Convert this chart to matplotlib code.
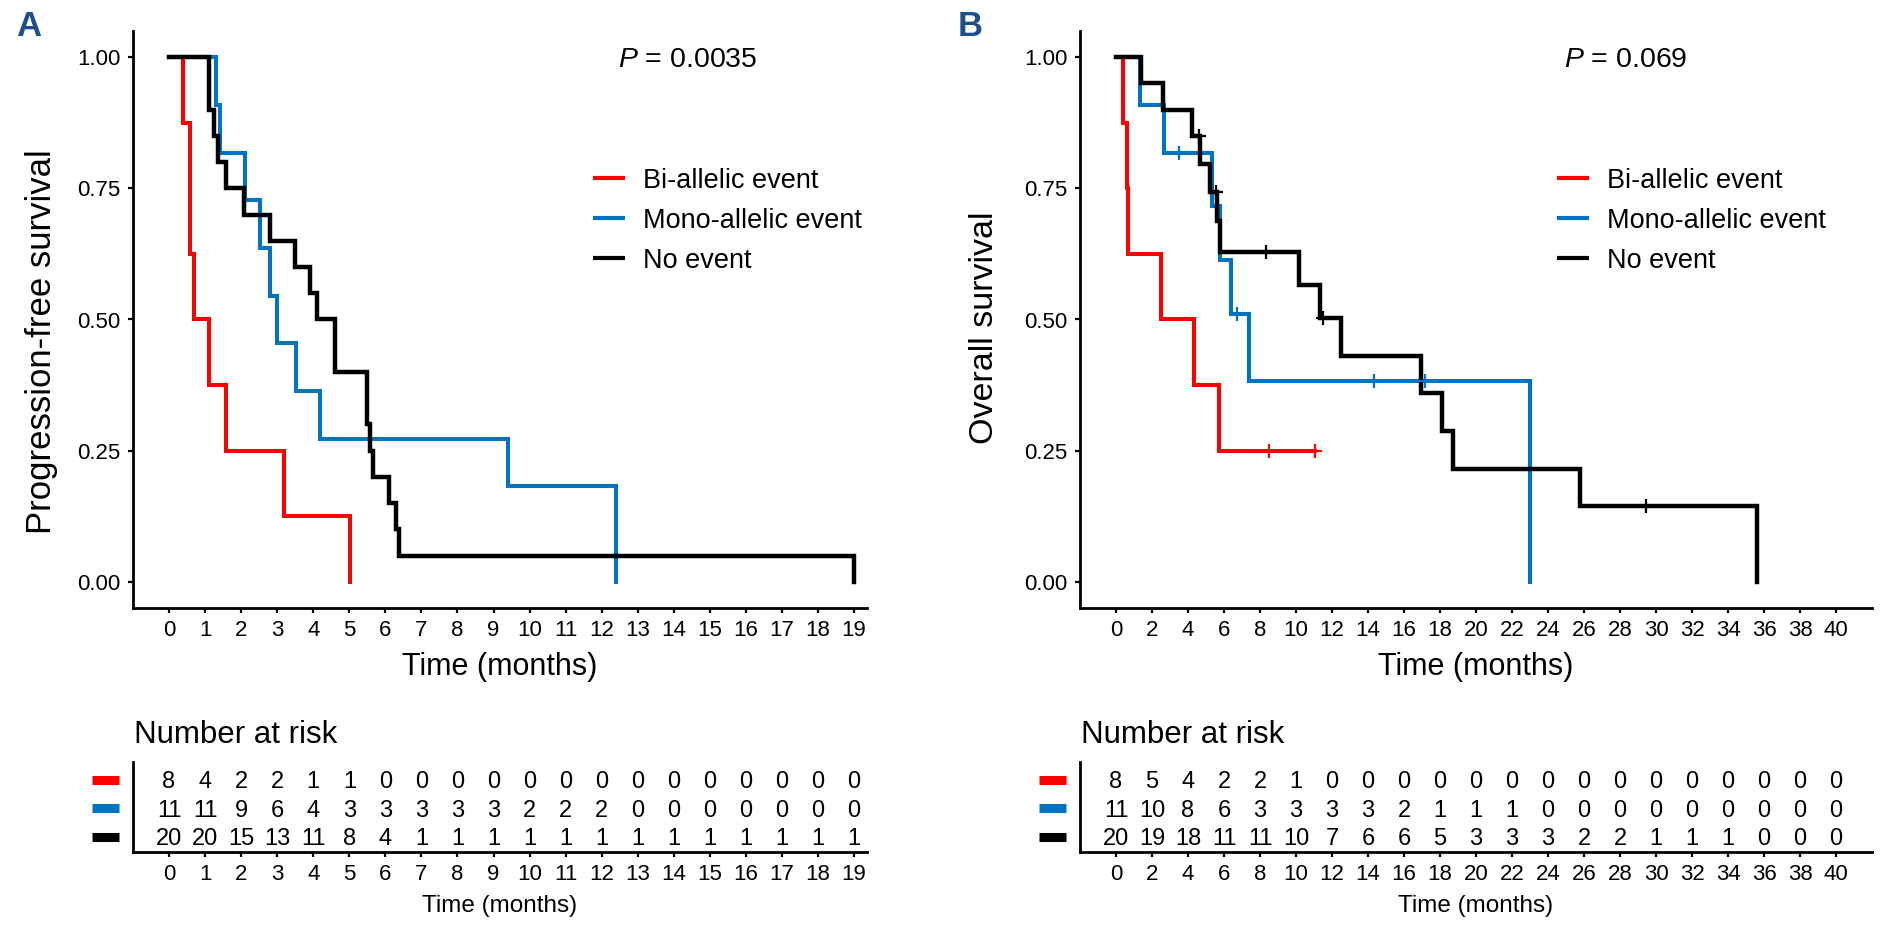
import numpy as np
import matplotlib
matplotlib.use('Agg')
import matplotlib.pyplot as plt
from matplotlib.lines import Line2D

plt.rcParams['font.family'] = ['Liberation Sans', 'DejaVu Sans']
plt.rcParams['mathtext.fontset'] = 'custom'
plt.rcParams['mathtext.rm'] = 'Liberation Sans'
plt.rcParams['mathtext.it'] = 'Liberation Sans:italic'

W, H = 1885, 930

groups = ['Bi-allelic event', 'Mono-allelic event', 'No event']
colors = ['#FF0000', '#0073C2', '#000000']
line_widths = [2.9, 2.9, 3.2]

# ---------------- Panel A: progression-free survival ----------------
pfs_bi_time = [0, 0.38, 0.59, 0.69, 1.10, 1.59, 3.20, 5.01]
pfs_bi_surv = [1.0, 0.875, 0.625, 0.5, 0.375, 0.25, 0.125, 0.0]
pfs_mono_time = [0, 1.31, 1.40, 2.11, 2.51, 2.81, 3.00, 3.51, 4.20, 9.40, 12.40]
pfs_mono_surv = [1.0, 0.909, 0.818, 0.727, 0.636, 0.545, 0.455, 0.364, 0.273, 0.182, 0.0]
pfs_none_time = [0, 1.12, 1.26, 1.37, 1.59, 2.09, 2.81, 3.50, 3.90, 4.10, 4.61,
                 5.49, 5.58, 5.65, 6.10, 6.30, 6.39, 19.0]
pfs_none_surv = [1.0, 0.90, 0.85, 0.80, 0.75, 0.70, 0.65, 0.60, 0.55, 0.50, 0.40,
                 0.30, 0.25, 0.20, 0.15, 0.10, 0.05, 0.0]
pfs_censor = [[], [], []]
pfs_ticks = list(range(0, 20))
pfs_risk_bi = [8, 4, 2, 2, 1, 1, 0, 0, 0, 0, 0, 0, 0, 0, 0, 0, 0, 0, 0, 0]
pfs_risk_mono = [11, 11, 9, 6, 4, 3, 3, 3, 3, 3, 2, 2, 2, 0, 0, 0, 0, 0, 0, 0]
pfs_risk_none = [20, 20, 15, 13, 11, 8, 4, 1, 1, 1, 1, 1, 1, 1, 1, 1, 1, 1, 1, 1]
pfs_p = '0.0035'

# ---------------- Panel B: overall survival ----------------
os_bi_time = [0, 0.39, 0.61, 0.67, 2.50, 4.32, 5.74, 11.03]
os_bi_surv = [1.0, 0.875, 0.75, 0.625, 0.5, 0.375, 0.25, 0.25]
os_mono_time = [0, 1.32, 2.65, 5.35, 5.80, 6.39, 7.41, 23.01]
os_mono_surv = [1.0, 0.909, 0.818, 0.716, 0.614, 0.511, 0.383, 0.0]
os_none_time = [0, 1.39, 2.61, 4.22, 4.65, 5.24, 5.61, 5.80, 10.15, 11.35, 12.50,
                16.94, 18.10, 18.72, 25.75, 35.63]
os_none_surv = [1.0, 0.95, 0.90, 0.85, 0.797, 0.744, 0.687, 0.629, 0.566, 0.503, 0.431,
                0.359, 0.287, 0.215, 0.144, 0.0]
os_bi_censor = [8.50, 11.03]
os_mono_censor = [3.50, 6.72, 14.31, 17.18]
os_none_censor = [4.60, 5.57, 8.33, 11.48, 29.43]
os_ticks = list(range(0, 41, 2))
os_risk_bi = [8, 5, 4, 2, 2, 1, 0, 0, 0, 0, 0, 0, 0, 0, 0, 0, 0, 0, 0, 0, 0]
os_risk_mono = [11, 10, 8, 6, 3, 3, 3, 3, 2, 1, 1, 1, 0, 0, 0, 0, 0, 0, 0, 0, 0]
os_risk_none = [20, 19, 18, 11, 11, 10, 7, 6, 6, 5, 3, 3, 3, 2, 2, 1, 1, 1, 0, 0, 0]
os_p = '0.069'

fig = plt.figure(figsize=(W / 100, H / 100), dpi=100)


def fx(x):
    return x / W


def fy(y):
    return 1 - y / H


def surv_at(times, survs, t):
    idx = np.searchsorted(np.asarray(times), t, side='right') - 1
    return np.asarray(survs)[idx]


def style_axis(ax, labelsize):
    for s in ['top', 'right']:
        ax.spines[s].set_visible(False)
    for s in ['left', 'bottom']:
        ax.spines[s].set_linewidth(2.0)
    ax.tick_params(axis='both', width=1.6, length=3.8, pad=5.0,
                   labelsize=labelsize, colors='black')


def panel(left, right, xlim, curves, censors, ticks, risks, ylabel, ylab_x, ylab_y,
          ylab_size, pval, p_x, leg_x0, letter, letter_x):
    # main survival axes
    ax = fig.add_axes([fx(left), fy(608), fx(right) - fx(left), (608 - 31) / H])
    for (t, s), c, lw in zip(curves, colors, line_widths):
        ax.step(t, s, where='post', color=c, lw=lw, solid_joinstyle='miter')
    for (t, s), ct, c in zip(curves, censors, colors):
        if len(ct):
            ax.plot(ct, surv_at(t, s, ct), linestyle='none', marker='+',
                    markersize=10, markeredgewidth=1.6, color=c)
    ax.set_xlim(*xlim)
    ax.set_ylim(-0.05, 1.05)
    ax.set_xticks(ticks)
    ax.set_xticklabels([str(v) for v in ticks])
    ax.set_yticks([0, 0.25, 0.5, 0.75, 1.0])
    ax.set_yticklabels(['0.00', '0.25', '0.50', '0.75', '1.00'])
    style_axis(ax, 16)
    cx = (left + right) / 2
    fig.text(fx(cx), fy(675), 'Time (months)', ha='center', va='baseline', fontsize=22)
    fig.text(fx(ylab_x), fy(ylab_y), ylabel, rotation=90, ha='center', va='center',
             fontsize=ylab_size)
    fig.text(fx(p_x), fy(67), r'$\it{P}$ = ' + pval, ha='center', va='baseline',
             fontsize=20.5)
    # legend
    for i, (g, c) in enumerate(zip(groups, colors)):
        yy = 178.3 + 40 * i
        fig.add_artist(Line2D([fx(leg_x0), fx(leg_x0 + 32)], [fy(yy), fy(yy)],
                              color=c, lw=3.0, solid_capstyle='butt',
                              transform=fig.transFigure))
        fig.text(fx(leg_x0 + 50), fy(yy + 9.8), g, ha='left', va='baseline',
                 fontsize=19.5)
    fig.text(fx(letter_x), fy(36), letter, ha='left', va='baseline', fontsize=25,
             fontweight='bold', color='#1F4E8C')

    # risk table axes
    rax = fig.add_axes([fx(left), fy(851.7), fx(right) - fx(left), 90 / H])
    for row, (vals, c) in enumerate(zip(risks, colors)):
        yv = 3 - row
        for xv, n in zip(ticks, vals):
            rax.text(xv, yv, str(n), ha='center', va='center', fontsize=17)
    rax.set_xlim(*xlim)
    rax.set_ylim(0.55, 3.73)
    rax.set_xticks(ticks)
    rax.set_xticklabels([str(v) for v in ticks])
    rax.set_yticks([])
    style_axis(rax, 16)
    for row, c in enumerate(colors):
        yy = 780 + 28.3 * row
        fig.add_artist(Line2D([fx(left - 41), fx(left - 14)], [fy(yy), fy(yy)],
                              color=c, lw=6.5, solid_capstyle='butt',
                              transform=fig.transFigure))
    fig.text(fx(left + 1), fy(743), 'Number at risk', ha='left', va='baseline',
             fontsize=22.5)
    fig.text(fx(cx), fy(911.7), 'Time (months)', ha='center', va='baseline',
             fontsize=17.5)


panel(133, 866.7, (-1.0, 19.35),
      [(pfs_bi_time, pfs_bi_surv), (pfs_mono_time, pfs_mono_surv),
       (pfs_none_time, pfs_none_surv)],
      pfs_censor, pfs_ticks, [pfs_risk_bi, pfs_risk_mono, pfs_risk_none],
      'Progression-free survival', 42, 342, 25, pfs_p, 688, 593, 'A', 16)

panel(1080, 1872, (-2.0, 42.0),
      [(os_bi_time, os_bi_surv), (os_mono_time, os_mono_surv),
       (os_none_time, os_none_surv)],
      [os_bi_censor, os_mono_censor, os_none_censor], os_ticks,
      [os_risk_bi, os_risk_mono, os_risk_none],
      'Overall survival', 984, 328, 24.5, os_p, 1626, 1557, 'B', 958)

fig.savefig('out.png', dpi=100)
